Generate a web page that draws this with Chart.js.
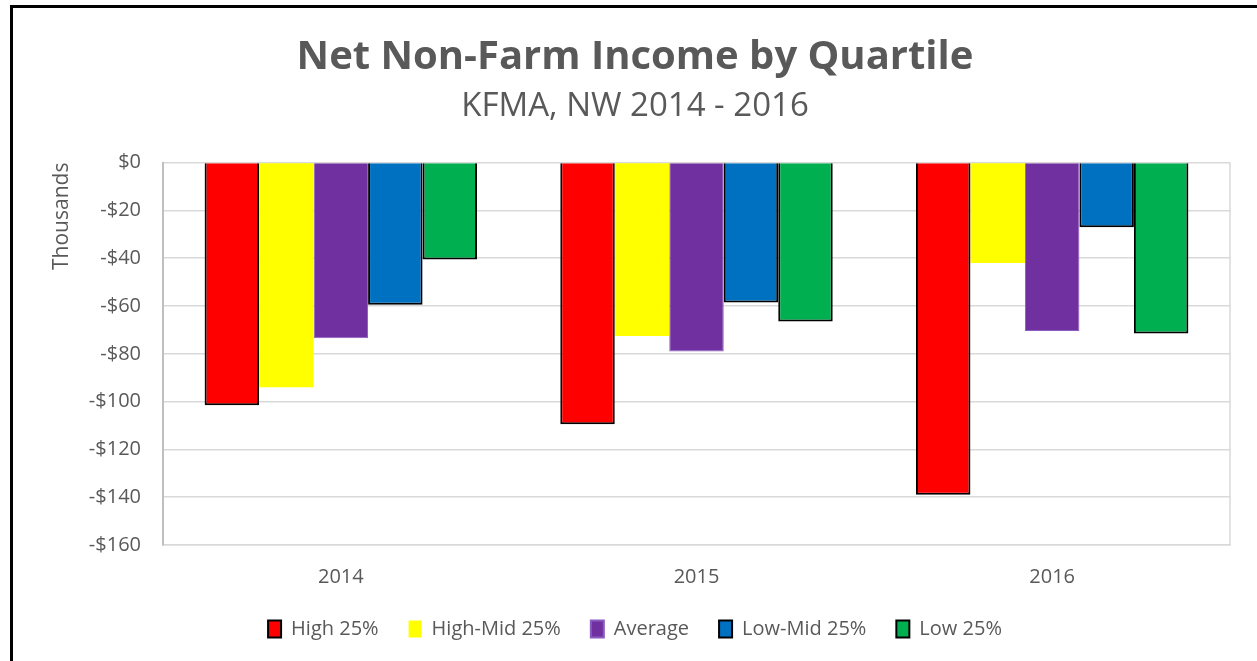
<!DOCTYPE html>
<html>
<head>
<meta charset="utf-8">
<script src="https://cdn.jsdelivr.net/npm/chart.js@4"></script>
<style>
html,body{margin:0;padding:0;background:#fff;}
#wrap{position:relative;width:1257px;height:661px;overflow:hidden;}
#frame{position:absolute;left:10px;top:5px;width:1300px;height:700px;border-left:3px solid #000;border-top:3px solid #000;box-sizing:border-box;pointer-events:none;}
canvas{position:absolute;left:0;top:0;}
</style>
</head>
<body>
<div id="wrap">
<canvas id="c" width="1257" height="661"></canvas>
<div id="frame"></div>
</div>
<script>
const categories = ["2014", "2015", "2016"];
const seriesNames = ["High 25%", "High-Mid 25%", "Average", "Low-Mid 25%", "Low 25%"];
const high = [-101.5, -109.5, -139.0];
const highMid = [-94.0, -72.5, -42.0];
const average = [-73.5, -79.0, -70.5];
const lowMid = [-59.5, -58.5, -27.0];
const low = [-40.5, -66.5, -71.5];
const yTicks = [0, -20, -40, -60, -80, -100, -120, -140, -160];

const colors = ["#FF0000", "#FFFF00", "#7030A0", "#0070C0", "#00B050"];
const borders = ["#000000", "#FFFF00", "#8a5cc0", "#000000", "#000000"];
const borderW = [2, 0, 1, 2, 2];
const values = [high, highMid, average, lowMid, low];

const textColor = "#595959";
const fontFam = "'Open Sans', 'Liberation Sans', sans-serif";

const datasets = seriesNames.map((n, i) => ({
  label: n,
  data: values[i],
  backgroundColor: colors[i],
  borderColor: borders[i],
  borderWidth: borderW[i],
  borderSkipped: 'start',
  barPercentage: 1,
  categoryPercentage: 0.766
}));

new Chart(document.getElementById('c'), {
  type: 'bar',
  data: { labels: categories, datasets },
  options: {
    responsive: false,
    animation: false,
    devicePixelRatio: 1,
    layout: { padding: { left: 40, right: 27, top: 0, bottom: 12 } },
    plugins: {
      title: {
        display: true,
        text: "Net Non-Farm Income by Quartile",
        color: textColor,
        font: { family: fontFam, size: 40, weight: 'bold' },
        padding: { top: 34, bottom: 5 }
      },
      subtitle: {
        display: true,
        text: "KFMA, NW 2014 - 2016",
        color: textColor,
        font: { family: fontFam, size: 33, weight: 'normal' },
        padding: { top: 0, bottom: 36 }
      },
      legend: {
        position: 'bottom',
        labels: {
          color: textColor,
          font: { family: fontFam, size: 20 },
          boxWidth: 13,
          boxHeight: 17,
          padding: 30,
          generateLabels: (chart) => chart.data.datasets.map((d, i) => ({
            text: d.label,
            fillStyle: d.backgroundColor,
            strokeStyle: d.borderWidth ? d.borderColor : d.backgroundColor,
            lineWidth: d.borderWidth ? 2 : 0,
            fontColor: textColor,
            datasetIndex: i,
            hidden: false
          }))
        }
      },
      tooltip: { enabled: false }
    },
    scales: {
      x: {
        grid: { display: false },
        border: { display: true, color: '#d9d9d9', width: 1.5 },
        afterFit: (s) => { s.height = s.height - 12; },
        ticks: { color: textColor, font: { family: fontFam, size: 20 }, padding: 12 }
      },
      y: {
        min: -160,
        max: 0,
        afterBuildTicks: (s) => { s.ticks = yTicks.map(v => ({ value: v })); },
        afterFit: (s) => { s.width = 123; },
        grid: { color: '#d9d9d9', lineWidth: 1.5, drawTicks: false },
        border: { display: true, color: '#bfbfbf', width: 2 },
        title: { display: true, text: 'Thousands', align: 'end', color: textColor, font: { family: fontFam, size: 21 }, padding: { top: 9, bottom: 0 } },
        ticks: {
          color: textColor,
          font: { family: fontFam, size: 20 },
          padding: 22,
          callback: (v) => (v < 0 ? '-$' + Math.abs(v) : '$' + v)
        }
      }
    }
  },
  plugins: [{
    id: 'rightBorder',
    afterDraw(chart) {
      const a = chart.chartArea, ctx = chart.ctx;
      ctx.save();
      ctx.strokeStyle = '#d9d9d9';
      ctx.lineWidth = 1.5;
      ctx.beginPath();
      ctx.moveTo(a.right, a.top);
      ctx.lineTo(a.right, a.bottom);
      ctx.stroke();
      ctx.restore();
    }
  }]
});
</script>
</body>
</html>
